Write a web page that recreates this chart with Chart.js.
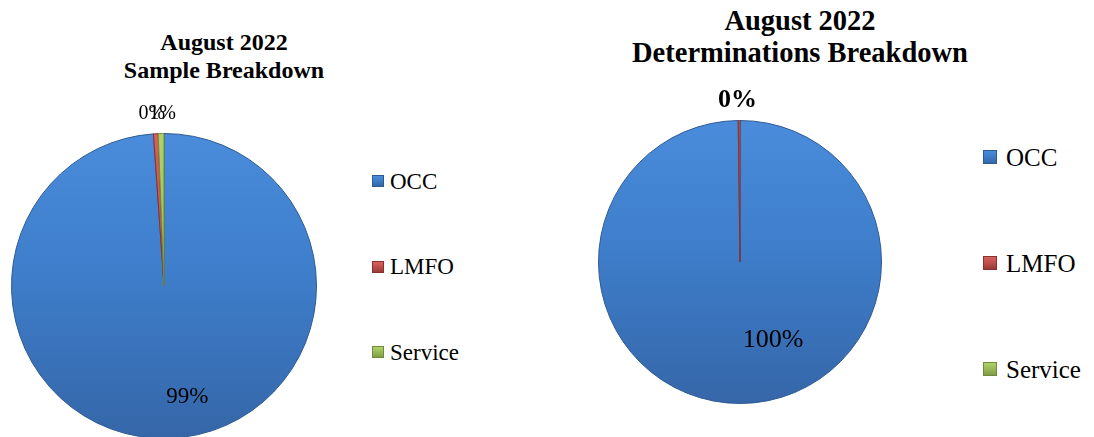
<!DOCTYPE html>
<html><head><meta charset="utf-8">
<script src="https://cdn.jsdelivr.net/npm/chart.js@4.4.0/dist/chart.umd.min.js"></script>
<style>
html,body{margin:0;padding:0;width:1094px;height:437px;overflow:hidden;background:#fff;font-family:"Liberation Serif","Times New Roman",serif;color:#000}
.box{position:absolute}
.title{position:absolute;font-weight:bold;text-align:center;white-space:nowrap}
.leg{position:absolute;white-space:nowrap;font-family:"Liberation Serif",serif}
.item{position:absolute;left:0;display:flex;align-items:center}
.mk{display:inline-block;box-sizing:border-box}
</style></head><body>
<div id="t1" class="title" style="left:24px;width:400px;top:28px;font-size:24px;line-height:28px"></div>
<div id="t2" class="title" style="left:600px;width:400px;top:5px;font-size:28.5px;line-height:32px"></div>
<div class="box" style="left:0;top:0;width:330px;height:460px"><canvas id="c1" width="330" height="460"></canvas></div>
<div class="box" style="left:580px;top:0;width:320px;height:437px"><canvas id="c2" width="320" height="437"></canvas></div>
<div id="l1" class="leg" style="left:372px;top:0;font-size:23px;line-height:23px"></div>
<div id="l2" class="leg" style="left:983px;top:0;font-size:25px;line-height:25px"></div>
<script>
// ---- data ----
const categories = ['OCC', 'LMFO', 'Service'];
const sampleTitle = ['August 2022', 'Sample Breakdown'];
const sampleValues = [98.9, 0.49, 0.61];
const detTitle = ['August 2022', 'Determinations Breakdown'];
const detValues = [99.8, 0.2, 0];
const baseColors = ['#3e7ecb', '#c0504d', '#9bbb59'];
const lightColors = ['#4a8cdb', '#d6615d', '#b0d06a'];
const darkColors = ['#3566a8', '#9c3a37', '#7f9c44'];
const edgeColors = ['#2e5a92', '#8a302d', '#6f8a3a'];

// ---- helpers ----
function sliceFill(ctx) {
  const i = ctx.dataIndex;
  const chart = ctx.chart;
  const area = chart.chartArea;
  if (!area || i === undefined) return baseColors[i || 0];
  const g = chart.ctx.createLinearGradient(0, area.top, 0, area.bottom);
  g.addColorStop(0, lightColors[i]);
  g.addColorStop(0.45, baseColors[i]);
  g.addColorStop(1, darkColors[i]);
  return g;
}

const pctLabels = {
  id: 'pctLabels',
  afterDatasetsDraw(chart, args, opts) {
    const meta = chart.getDatasetMeta(0);
    const data = chart.data.datasets[0].data;
    const total = data.reduce((a, b) => a + b, 0);
    const c = chart.ctx;
    c.save();
    meta.data.forEach((arc, i) => {
      const v = data[i];
      if (!v) return;
      const spec = opts.items[i];
      const p = arc.getProps(['x', 'y', 'startAngle', 'endAngle', 'outerRadius'], true);
      const mid = (p.startAngle + p.endAngle) / 2;
      const dist = spec.outside ? p.outerRadius + spec.gap : p.outerRadius * spec.ratio;
      const x = p.x + Math.cos(mid) * dist + (spec.dx || 0);
      const y = p.y + Math.sin(mid) * dist + (spec.dy || 0);
      c.font = spec.font;
      c.fillStyle = '#000';
      c.textAlign = 'center';
      c.textBaseline = 'middle';
      c.fillText(Math.round(v / total * 100) + '%', x, y);
    });
    c.restore();
  }
};

function makePie(id, values, padding, items) {
  return new Chart(document.getElementById(id), {
    type: 'pie',
    data: {
      labels: categories,
      datasets: [{
        data: values,
        backgroundColor: sliceFill,
        borderColor: edgeColors,
        borderWidth: 1
      }]
    },
    options: {
      responsive: false,
      maintainAspectRatio: false,
      devicePixelRatio: 1,
      animation: false,
      layout: { padding: padding },
      plugins: {
        legend: { display: false },
        title: { display: false },
        tooltip: { enabled: false },
        pctLabels: { items: items }
      }
    },
    plugins: [pctLabels]
  });
}

makePie('c1', sampleValues, { left: 11, top: 133, right: 13, bottom: 21 }, [
  { outside: false, ratio: 0.73, dx: 19.5, dy: 0, font: '23px "Liberation Serif"' },
  { outside: true, gap: 20, dx: -3, dy: 0, font: '20px "Liberation Serif"' },
  { outside: true, gap: 20, dx: 2, dy: 0, font: '20px "Liberation Serif"' }
]);
makePie('c2', detValues, { left: 18, top: 120, right: 18, bottom: 33 }, [
  { outside: false, ratio: 0.55, dx: 32.5, dy: 0, font: '26px "Liberation Serif"' },
  { outside: true, gap: 20, dx: -1.5, dy: 0, font: 'bold 26px "Liberation Serif"' },
  { outside: true, gap: 20, dx: 0, dy: 0, font: 'bold 26px "Liberation Serif"' }
]);

// ---- titles ----
document.getElementById('t1').innerHTML = sampleTitle.join('<br>');
document.getElementById('t2').innerHTML = detTitle.join('<br>');

// ---- legends ----
function buildLegend(id, tops, size, gap) {
  const el = document.getElementById(id);
  categories.forEach((name, i) => {
    const it = document.createElement('div');
    it.className = 'item';
    it.style.top = tops[i] + 'px';
    const mk = document.createElement('span');
    mk.className = 'mk';
    mk.style.width = size + 'px';
    mk.style.height = size + 'px';
    mk.style.marginRight = gap + 'px';
    mk.style.border = '1px solid ' + edgeColors[i];
    mk.style.background = 'linear-gradient(to bottom,' + lightColors[i] + ' 0%,' + baseColors[i] + ' 45%,' + darkColors[i] + ' 100%)';
    const tx = document.createElement('span');
    tx.textContent = name;
    it.appendChild(mk);
    it.appendChild(tx);
    el.appendChild(it);
  });
}
buildLegend('l1', [169.5, 255, 340.5], 12, 6);
buildLegend('l2', [144.5, 250.5, 356.5], 14, 9);
</script>
</body></html>
